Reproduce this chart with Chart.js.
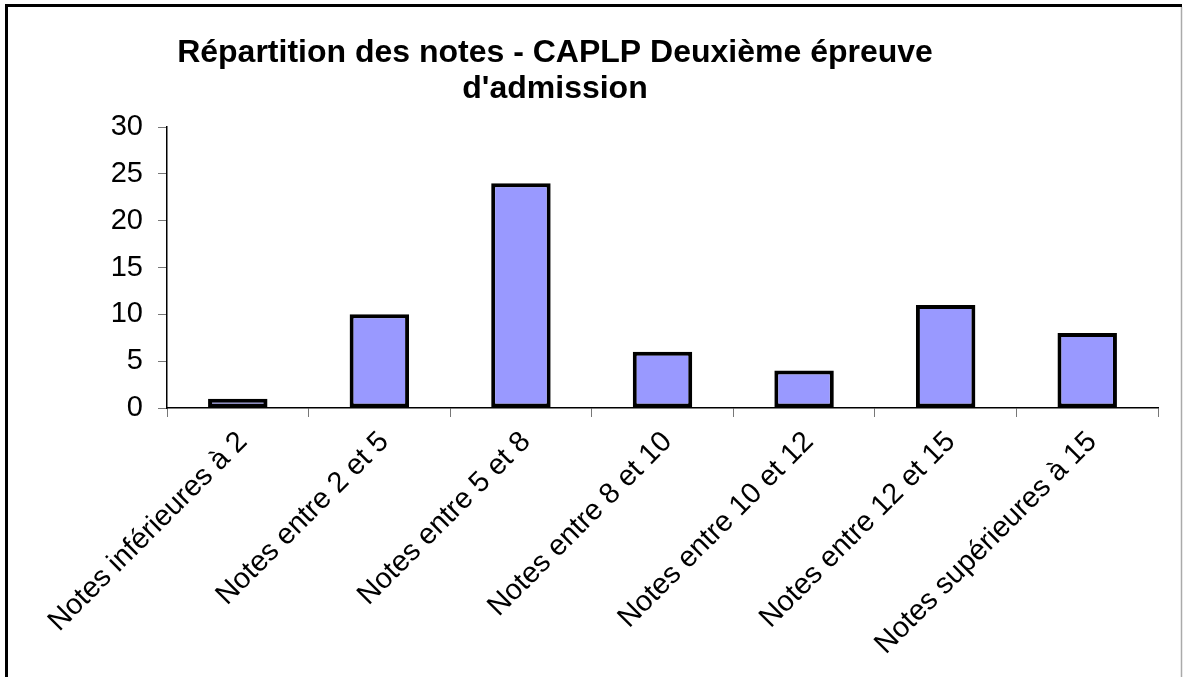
<!DOCTYPE html>
<html>
<head>
<meta charset="utf-8">
<script src="https://cdn.jsdelivr.net/npm/chart.js@4.4.1/dist/chart.umd.min.js"></script>
<style>
html,body{margin:0;padding:0;background:#fff;}
#wrap{position:relative;width:1183px;height:677px;}
</style>
</head>
<body>
<div id="wrap"><canvas id="c" width="1183" height="677"></canvas></div>
<script>
const titleLines = ["Répartition des notes - CAPLP Deuxième épreuve", "d'admission"];
const categories = [
  "Notes inférieures à 2",
  "Notes entre 2 et 5",
  "Notes entre 5 et 8",
  "Notes entre 8 et 10",
  "Notes entre 10 et 12",
  "Notes entre 12 et 15",
  "Notes supérieures à 15"
];
const counts = [1, 10, 24, 6, 4, 11, 8];
const yTicks = [0, 5, 10, 15, 20, 25, 30];

const FONT = "'Liberation Sans', Arial, sans-serif";

const framePlugin = {
  id: 'frame',
  afterDraw(chart) {
    const ctx = chart.ctx;
    ctx.save();
    ctx.strokeStyle = '#000';
    ctx.lineWidth = 3;
    ctx.beginPath();
    ctx.moveTo(6.5, 677);
    ctx.lineTo(6.5, 5.5);
    ctx.lineTo(1182, 5.5);
    ctx.stroke();
    ctx.strokeStyle = '#aaa';
    ctx.lineWidth = 1.5;
    ctx.beginPath();
    ctx.moveTo(1181.5, 7);
    ctx.lineTo(1181.5, 677);
    ctx.stroke();
    // title
    ctx.fillStyle = '#000';
    ctx.font = "bold 32px " + FONT;
    ctx.textAlign = 'center';
    ctx.textBaseline = 'alphabetic';
    ctx.fillText(titleLines[0], 555, 62);
    ctx.fillText(titleLines[1], 555, 98);
    ctx.restore();
  }
};

new Chart(document.getElementById('c'), {
  type: 'bar',
  data: {
    labels: categories,
    datasets: [{
      data: counts,
      backgroundColor: '#9999FF',
      borderColor: '#000',
      borderWidth: 4,
      borderSkipped: false,
      barPercentage: 0.42,
      categoryPercentage: 1.0
    }]
  },
  options: {
    responsive: false,
    animation: false,
    layout: { padding: { top: 127, right: 25, left: 0, bottom: 0 } },
    plugins: {
      legend: { display: false },
      tooltip: { enabled: false },
      title: { display: false }
    },
    scales: {
      x: {
        offset: true,
        grid: {
          offset: true,
          drawOnChartArea: false,
          drawTicks: true,
          tickLength: 9,
          color: '#777'
        },
        border: { color: '#000', width: 1.5 },
        ticks: {
          color: '#000',
          font: { family: FONT, size: 29 },
          maxRotation: 45,
          minRotation: 45,
          padding: 8,
          labelOffset: 5,
          autoSkip: false
        },
        afterFit(scale) { scale.height = 269; }
      },
      y: {
        min: 0,
        max: 30,
        afterBuildTicks(scale) { scale.ticks = yTicks.map(v => ({ value: v })); },
        grid: {
          drawOnChartArea: false,
          drawTicks: true,
          tickLength: 9,
          color: '#777'
        },
        border: { color: '#000', width: 1.5 },
        ticks: {
          color: '#000',
          font: { family: FONT, size: 29 },
          padding: 15
        },
        afterFit(scale) { scale.width = 167; }
      }
    }
  },
  plugins: [framePlugin]
});
</script>
</body>
</html>
